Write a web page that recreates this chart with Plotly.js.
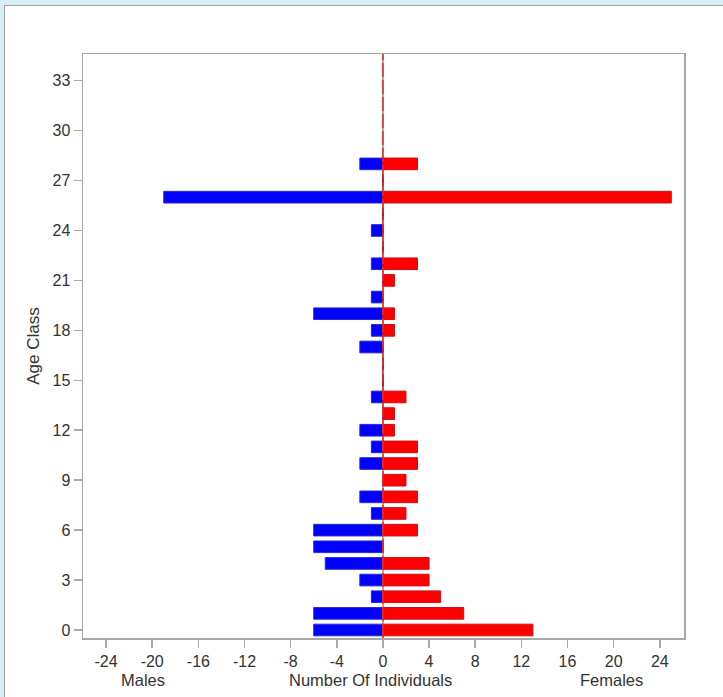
<!DOCTYPE html>
<html>
<head>
<meta charset="utf-8">
<script src="https://cdn.plot.ly/plotly-2.35.2.min.js"></script>
<style>
  html, body { margin: 0; padding: 0; background: #d9edf4; width: 723px; height: 697px; overflow: hidden; }
  #panel { position: absolute; left: 4px; top: 5px; width: 740px; height: 720px; background: #ffffff; border: 1px solid #a0a0a0; }
  #chart { position: absolute; left: 0; top: 0; width: 723px; height: 697px; }
</style>
</head>
<body>
<div id="panel"></div>
<div id="chart"></div>
<script>
const ageClasses = [0,1,2,3,4,5,6,7,8,9,10,11,12,13,14,15,16,17,18,19,20,21,22,23,24,25,26,27,28];
const males   = [-6,-6,-1,-2,-5,-6,-6,-1,-2,0,-2,-1,-2,0,-1,0,0,-2,-1,-6,-1,0,-1,0,-1,0,-19,0,-2];
const females = [13,7,5,4,4,0,3,2,3,2,3,3,1,1,2,0,0,0,1,1,0,1,3,0,0,0,25,0,3];
const xTicks = [-24,-20,-16,-12,-8,-4,0,4,8,12,16,20,24];
const yTicks = [0,3,6,9,12,15,18,21,24,27,30,33];
const axisLabels = ["Males", "Number Of Individuals", "Females"];

const font = "Liberation Sans, Arial, sans-serif";

const traces = [
  {
    type: "bar", orientation: "h", y: ageClasses, x: males, width: 0.7,
    marker: { color: "#0000ff", line: { color: "#2a2ad0", width: 1 } },
    hoverinfo: "none", name: "Males"
  },
  {
    type: "bar", orientation: "h", y: ageClasses, x: females, width: 0.7,
    marker: { color: "#ff0000", line: { color: "#cc1010", width: 1 } },
    hoverinfo: "none", name: "Females"
  }
];

const layout = {
  width: 723, height: 697,
  margin: { l: 83, r: 39, t: 54, b: 59 },
  paper_bgcolor: "rgba(0,0,0,0)",
  plot_bgcolor: "#ffffff",
  showlegend: false,
  barmode: "overlay",
  font: { family: font, size: 16, color: "#333333" },
  xaxis: {
    range: [-26, 26.1],
    tickmode: "array", tickvals: xTicks, ticktext: xTicks.map(String),
    ticks: "outside", ticklen: 8, tickwidth: 1.5, tickcolor: "#aaaaaa",
    showgrid: false, zeroline: true, zerolinecolor: "#aaaaaa", zerolinewidth: 1.5,
    showline: true, linecolor: "#a8a8a8", linewidth: 1.5, mirror: true,
    tickfont: { family: font, size: 16, color: "#333333" }
  },
  yaxis: {
    range: [-0.48, 34.6],
    tickmode: "array", tickvals: yTicks, ticktext: yTicks.map(String),
    ticks: "outside", ticklen: 8, tickwidth: 1.5, tickcolor: "#aaaaaa",
    showgrid: false, zeroline: false,
    showline: true, linecolor: "#a8a8a8", linewidth: 1.5, mirror: true,
    tickfont: { family: font, size: 16, color: "#333333" },
    title: { text: "Age Class", font: { family: font, size: 17, color: "#333333" }, standoff: 8 }
  },
  shapes: [
    {
      type: "line", xref: "x", yref: "paper", x0: 0, x1: 0, y0: 0, y1: 1,
      line: { color: "#d83030", width: 1.5, dash: "14px,3px" }, layer: "above"
    }
  ],
  annotations: [
    { text: axisLabels[0], xref: "x", yref: "paper", x: -20.8, y: -0.072, showarrow: false, yanchor: "middle",
      font: { family: font, size: 16.5, color: "#333333" } },
    { text: axisLabels[1], xref: "x", yref: "paper", x: -1.05, y: -0.072, showarrow: false, yanchor: "middle",
      font: { family: font, size: 16.5, color: "#333333" } },
    { text: axisLabels[2], xref: "x", yref: "paper", x: 19.8, y: -0.072, showarrow: false, yanchor: "middle",
      font: { family: font, size: 16.5, color: "#333333" } }
  ]
};

Plotly.newPlot("chart", traces, layout, { displayModeBar: false, staticPlot: true });
</script>
</body>
</html>
